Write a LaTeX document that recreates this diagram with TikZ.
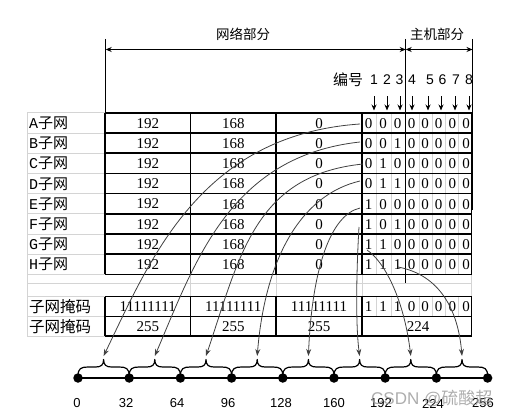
\documentclass[tikz,border=0pt]{standalone}
\usepackage{fontspec}
\setmainfont{Liberation Serif}
\newfontfamily\cjk{Noto Sans CJK SC}
\newfontfamily\arl{Liberation Sans}
\newfontfamily\lmono{Liberation Mono}
\usetikzlibrary{arrows.meta}
\begin{document}
\begin{tikzpicture}[x=1pt,y=-1pt,
  gridl/.style={draw=black!17,line width=0.6pt},
  tl/.style={draw=black,line width=1.6pt},
  num/.style={inner sep=0pt,font=\fontsize{15}{15}\selectfont},
  lab/.style={inner sep=0pt,anchor=west,font=\fontsize{15}{15}\selectfont},
  hdr/.style={inner sep=0pt,font=\cjk\fontsize{13.5}{14}\selectfont},
  dig/.style={inner sep=0pt,font=\arl\fontsize{14}{14}\selectfont},
  axl/.style={inner sep=0pt,font=\arl\fontsize{13}{13}\selectfont},
  dot/.style={circle,fill=black,inner sep=0pt,minimum size=9.5pt},
  curve/.style={draw=black!75,line width=0.8pt,-{Stealth[length=7pt,width=5pt]}},
  hbr/.style={draw=black,line width=1.2pt,line join=round},
  harr/.style={draw=black,line width=0.9pt,{Stealth[length=6pt,width=5pt]}-{Stealth[length=6pt,width=5pt]}},
  darr/.style={draw=black,line width=0.9pt,-{Stealth[length=6pt,width=5pt]}}]
\useasboundingbox (0,0) rectangle (518,417);

% ---------- grey grid (spreadsheet lines) ----------
\foreach \i in {0,...,8}{
  \draw[gridl] (27,{112.7+20.2*\i}) -- (105,{112.7+20.2*\i});
}
\foreach \yy in {283,296.5,316.3,336}{
  \draw[gridl] (27,\yy) -- (105,\yy);
}
\draw[gridl] (105,283) -- (471.5,283);
\draw[gridl] (27,112.7) -- (27,336);
\foreach \xx in {190.5,276,362,471.5}{
  \draw[gridl] (\xx,274.3) -- (\xx,296.5);
}
\foreach \xx in {376.6,391.1,418.9,432.0,445.2,458.4}{
  \draw[gridl] (\xx,112.7) -- (\xx,274.3);
  \draw[gridl] (\xx,296.5) -- (\xx,316.3);
}

% ---------- header ----------
\coordinate (hl) at (105.7,39);
\coordinate (hm) at (405.7,39);
\coordinate (hr) at (472.5,39);
\draw[line width=0.9pt] (hl) -- (105.7,210);
\draw[line width=0.9pt] (hm) -- (405.7,283);
\draw[line width=0.9pt] (hr) -- (472.5,210);
\coordinate (al) at (105.7,49.5);
\coordinate (am) at (405.7,49.5);
\coordinate (ar) at (472.5,49.5);
\draw[harr] (al) -- (am);
\draw[harr] (am) -- (ar);
\node[hdr] (wl) at (243,34) {网络部分};
\node[hdr] (zj) at (437,34) {主机部分};
\node[hdr,font=\cjk\fontsize{15}{15}\selectfont] (bh) at (348,80) {编号};
\foreach \n/\xx/\ax in {1/374/374,2/387/387,3/399.5/400,4/412/412,5/430/428,6/442.5/441,7/456/455,8/469/469}{
  \node[dig] (d\n) at (\xx,80) {\n};
  \coordinate (da\n) at (\ax,96);
  \coordinate (db\n) at (\ax,110.5);
  \draw[darr] (da\n) -- (db\n);
}

% ---------- table rows ----------
\foreach \L/\i/\a/\b/\c in {A/0/0/0/0,B/1/0/0/1,C/2/0/1/0,D/3/0/1/1,E/4/1/0/0,F/5/1/0/1,G/6/1/1/0,H/7/1/1/1}{
  \pgfmathsetmacro{\yc}{112.7+20.2*\i+10.6}
  \node[lab] (l\L) at (29,\yc) {{\lmono\L}{\cjk 子网}};
  \node[num] (n1\L) at (147.75,\yc) {192};
  \node[num] (n2\L) at (233.25,\yc) {168};
  \node[num] (n3\L) at (319,\yc) {0};
  \node[num] (b1\L) at (368.5,\yc) {\a};
  \node[num] (b2\L) at (383,\yc) {\b};
  \node[num] (b3\L) at (397.5,\yc) {\c};
  \node[num] (b4\L) at (411.5,\yc) {0};
  \node[num] (b5\L) at (425,\yc) {0};
  \node[num] (b6\L) at (438.7,\yc) {0};
  \node[num] (b7\L) at (452.3,\yc) {0};
  \node[num] (b8\L) at (466,\yc) {0};
}
% mask rows
\node[lab,font=\cjk\fontsize{15.5}{16}\selectfont] (m1) at (29,306.4) {子网掩码};
\node[lab,font=\cjk\fontsize{15.5}{16}\selectfont] (m2) at (29,326.2) {子网掩码};
\node[num] (m11) at (147.75,306.8) {11111111};
\node[num] (m12) at (233.25,306.8) {11111111};
\node[num] (m13) at (319,306.8) {11111111};
\foreach \k/\xx/\v in {1/368.5/1,2/383/1,3/397.5/1,4/411.5/0,5/425/0,6/438.7/0,7/452.3/0,8/466/0}{
  \node[num] (mb\k) at (\xx,306.8) {\v};
}
\node[num] (m21) at (147.75,326.6) {255};
\node[num] (m22) at (233.25,326.6) {255};
\node[num] (m23) at (319,326.6) {255};
\node[num] (m24) at (418,326.6) {224};

% ---------- thick table lines ----------
\foreach \i in {0,...,8}{
  \draw[tl] (105,{112.7+20.2*\i}) -- (471.5,{112.7+20.2*\i});
}
\foreach \xx in {105,190.5,276,362,471.5}{
  \draw[tl] (\xx,112.7) -- (\xx,274.3);
  \draw[tl] (\xx,296.5) -- (\xx,336);
}
\foreach \yy in {296.5,316.3,336}{
  \draw[tl] (105,\yy) -- (471.5,\yy);
}

% ---------- number line ----------
\foreach \k/\v/\lx in {0/0/77,1/32/126,2/64/177,3/96/228,4/128/281,5/160/334,6/192/381,7/224/433,8/256/483}{
  \coordinate (p\k) at ({78+51.2*\k},378);
  \node[axl] (x\k) at (\lx,403.5) {\v};
}
\draw[line width=2.6pt] (p0) -- (p8);
\foreach \k [evaluate=\k as \kn using int(\k+1)] in {0,...,7}{
  \pgfmathsetmacro{\xa}{78+51.2*\k}
  \pgfmathsetmacro{\xm}{\xa+25.6}
  \pgfmathsetmacro{\xb}{\xa+51.2}
  \draw[hbr] (\xa,376) .. controls (\xa,368.5) and (\xa+3,367) .. (\xa+10,367)
     -- (\xm-8,367) .. controls (\xm-2.5,367) and (\xm,365) .. (\xm,359.5)
     .. controls (\xm,365) and (\xm+2.5,367) .. (\xm+8,367)
     -- (\xb-10,367) .. controls (\xb-3,367) and (\xb,368.5) .. (\xb,376);
  \coordinate (t\kn) at (\xm,356);
}
\foreach \k in {0,...,8}{
  \node[dot] (dd\k) at (p\k) {};
}

% ---------- curved connectors ----------
\coordinate (sA) at (360,124);
\coordinate (sB) at (360,142);
\coordinate (sC) at (363,164);
\coordinate (sD) at (360,181);
\coordinate (sE) at (360,208);
\coordinate (sF) at (359,227);
\coordinate (sG) at (367,250);
\coordinate (sH) at (398,267);
\draw[curve] (sA) .. controls (200,135) and (150,260) .. (t1);
\draw[curve] (sB) .. controls (230,156) and (195,262) .. (t2);
\draw[curve] (sC) .. controls (255,175) and (240,255) .. (t3);
\draw[curve] (sD) .. controls (300,195) and (265,260) .. (t4);
\draw[curve] (sE) .. controls (330,215) and (312,270) .. (t5);
\draw[curve] (sF) .. controls (357,260) and (355,320) .. (t6);
\draw[curve] (sG) .. controls (385,262) and (404,300) .. (t7);
\draw[curve] (sH) .. controls (440,275) and (458,310) .. (t8);

% ---------- watermark ----------
\node[inner sep=0pt,anchor=west,text=black!40,opacity=0.8,font=\arl\fontsize{17}{17}\selectfont] (wm) at (371,398) {CSDN @{\cjk 硫酸超}};
\end{tikzpicture}
\end{document}
